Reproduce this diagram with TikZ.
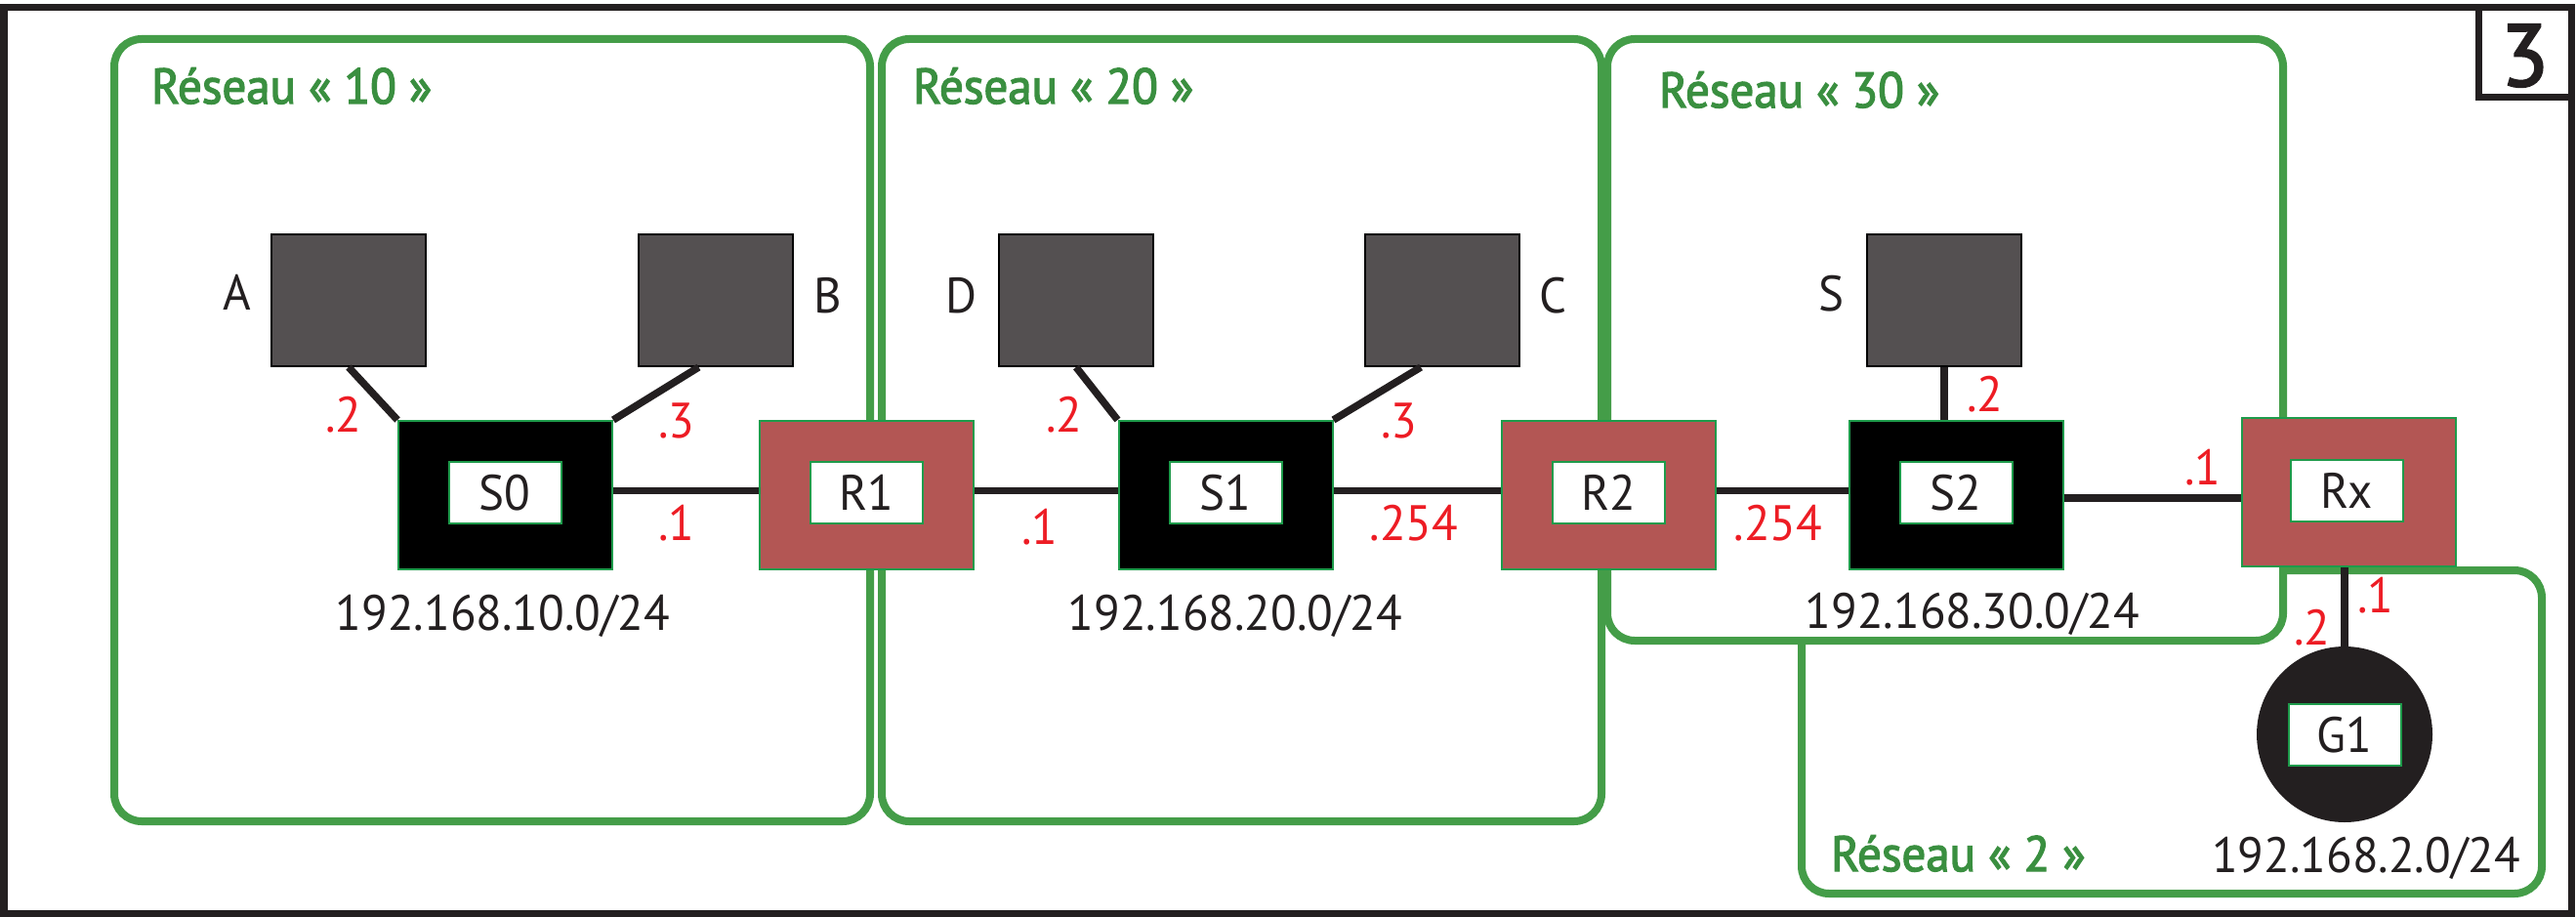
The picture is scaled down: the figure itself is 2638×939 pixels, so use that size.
\documentclass[tikz,border=0pt]{standalone}
\usepackage{fontspec}
\setmainfont[FakeStretch=0.96]{PT Sans}
\newfontfamily\titlefont[FakeStretch=0.96,FakeBold=2.6]{PT Sans}
\newfontfamily\numfont[FakeBold=2.5]{PT Sans}
\definecolor{regiongreen}{HTML}{449D48}
\definecolor{devgreen}{HTML}{1E9B4B}
\definecolor{router}{HTML}{B35654}
\definecolor{pcgray}{HTML}{545051}
\definecolor{ink}{HTML}{231F20}
\definecolor{ipred}{HTML}{ED1C24}
\definecolor{titlegreen}{HTML}{3A8F40}
\begin{document}
\begin{tikzpicture}[x=1pt,y=-1pt,
  font=\fontsize{51}{61}\selectfont,
  region/.style={draw=regiongreen,line width=8pt,rounded corners=28pt},
  pc/.style={rectangle,draw=black,line width=2pt,fill=pcgray,minimum width=158pt,minimum height=135pt,inner sep=0pt},
  switchbox/.style={rectangle,draw=devgreen,line width=2pt,fill=black,minimum width=219pt,minimum height=152pt,inner sep=0pt},
  routerbox/.style={switchbox,fill=router},
  tag/.style={rectangle,draw=devgreen,line width=2pt,fill=white,minimum width=115pt,minimum height=63pt,inner sep=0pt,text height=36pt,text depth=0pt,text=ink},
  link/.style={draw=ink,line width=7.5pt},
  ip/.style={text=ipred,anchor=base,inner sep=0pt},
  net/.style={text=ink,anchor=base,inner sep=0pt},
  title/.style={text=titlegreen,anchor=base west,inner sep=0pt,font=\titlefont\fontsize{51}{61}\selectfont},
  devname/.style={text=ink,anchor=base,inner sep=0pt}]
\useasboundingbox (0,0) rectangle (2638,939);
\fill[white] (0,0) rectangle (2638,939);
% frame
\draw[ink,line width=7pt] (4,8) rectangle (2633,935);
\draw[ink,line width=7pt] (2538,8) rectangle (2633,100);
\node[text=ink,font=\numfont\fontsize{90}{100}\selectfont,inner sep=0pt,anchor=base] (num) at (2585.5,88) {3};
% regions
\draw[region] (117,40) rectangle (891,841);
\draw[region] (903,40) rectangle (1640,841);
\draw[region] (1845,584) rectangle (2603,915);
\draw[region,fill=white] (1646,40) rectangle (2338,656);
% titles
\node[title] (t10) at (155,106) {Réseau « 10 »};
\node[title] (t20) at (935,106) {Réseau « 20 »};
\node[title] (t30) at (1699,110) {Réseau « 30 »};
\node[title] (t2) at (1875,892) {Réseau « 2 »};
% hosts
\node[pc] (A) at (357,307.5) {};
\node[pc] (B) at (732.5,307.5) {};
\node[pc] (D) at (1102,307.5) {};
\node[pc] (C) at (1477,307.5) {};
\node[pc] (S) at (1991,307.5) {};
\node[devname] (lA) at (243,317) {A};
\node[devname] (lB) at (848,320) {B};
\node[devname] (lD) at (984,320) {D};
\node[devname] (lC) at (1590,320) {C};
\node[devname] (lS) at (1875,318) {S};
% switches and routers
\node[switchbox] (S0) at (517.5,507) {};
\node[routerbox] (R1) at (887.5,507) {};
\node[switchbox] (S1) at (1255,507) {};
\node[routerbox] (R2) at (1647.5,507) {};
\node[switchbox] (S2) at (2003,507) {};
\node[routerbox] (Rx) at (2405,504) {};
\node[circle,fill=ink,minimum size=180pt,inner sep=0pt] (G1) at (2401,752) {};
\node[tag] (S0t) at (517,504.5) {S0};
\node[tag] (R1t) at (887,504.5) {R1};
\node[tag] (S1t) at (1255,504.5) {S1};
\node[tag] (R2t) at (1647,504.5) {R2};
\node[tag] (S2t) at (2003,504.5) {S2};
\node[tag] (Rxt) at (2403,502) {Rx};
\node[tag] (G1t) at (2401,752) {G1};
% links
\draw[link] (A.south) -- (S0.north west);
\draw[link] ([xshift=-17pt]B.south) -- (S0.north east);
\draw[link] (D.south) -- (S1.north west);
\draw[link] ([xshift=-22pt]C.south) -- (S1.north east);
\draw[link] (S.south) -- (S.south |- S2.north);
\draw[link] ([yshift=4.5pt]S0.east) -- ([yshift=4.5pt]S0.east -| R1.west);
\draw[link] ([yshift=4.5pt]R1.east) -- ([yshift=4.5pt]R1.east -| S1.west);
\draw[link] ([yshift=4.5pt]S1.east) -- ([yshift=4.5pt]S1.east -| R2.west);
\draw[link] ([yshift=4.5pt]R2.east) -- ([yshift=4.5pt]R2.east -| S2.west);
\draw[link] ([yshift=-3pt]S2.east) -- ([yshift=-3pt]S2.east -| Rx.west);
\draw[link] (G1.north) -- (G1.north |- Rx.south);
% addresses
\node[ip] (a1) at (352,442) {.2};
\node[ip] (a2) at (693,448) {.3};
\node[ip] (a3) at (693,553) {.1};
\node[ip] (a4) at (1065,557) {.1};
\node[ip] (a5) at (1090,442) {.2};
\node[ip] (a6) at (1433,448) {.3};
\node[ip] (a7) at (1448,553) {.254};
\node[ip] (a8) at (1821,553) {.254};
\node[ip] (a9) at (2033,421) {.2};
\node[ip] (a10) at (2256,496) {.1};
\node[ip] (a11) at (2433,627) {.1};
\node[ip] (a12) at (2368,660) {.2};
% networks
\node[net] (n10) at (515,645) {192.168.10.0/24};
\node[net] (n20) at (1265,645) {192.168.20.0/24};
\node[net] (n30) at (2020,643) {192.168.30.0/24};
\node[net] (n2) at (2423,893) {192.168.2.0/24};
\end{tikzpicture}
\end{document}
